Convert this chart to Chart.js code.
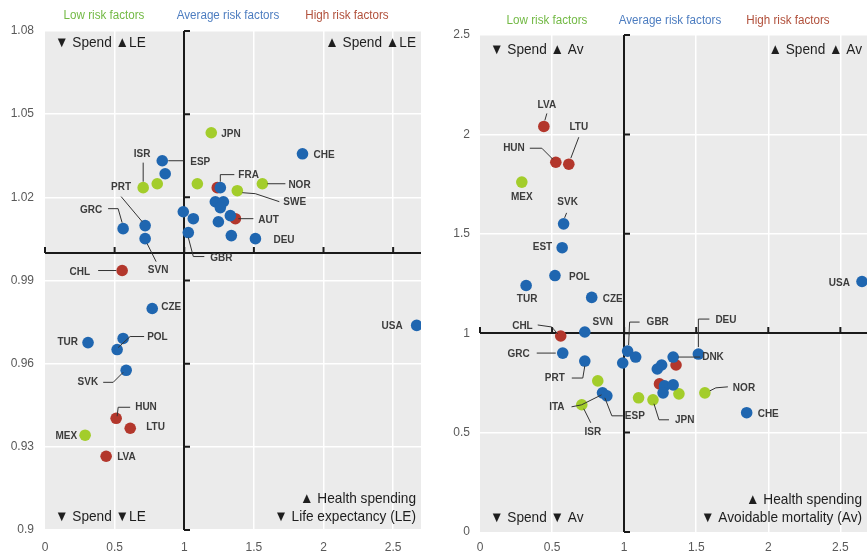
<!DOCTYPE html>
<html>
<head>
<meta charset="utf-8">
<script src="https://cdn.jsdelivr.net/npm/chart.js@4/dist/chart.umd.min.js"></script>
<style>
  html, body { margin: 0; padding: 0; background: #fff; overflow: hidden; width: 867px; height: 556px; }
  #leChart { position: absolute; left: 0; top: 0; }
  #avChart { position: absolute; left: 430px; top: 0; }
</style>
</head>
<body>
<canvas id="leChart" width="430" height="556"></canvas>
<canvas id="avChart" width="445" height="556"></canvas>
<script>
// ---- data: left panel (spending ratio vs life expectancy ratio) ----
// risk: L = low, A = average, H = high risk factors
const leCountries = ['CHL', '', 'AUT', 'HUN', 'LTU', 'LVA',
    'JPN', 'ISR', '', '', 'SWE', 'NOR', 'MEX',
    'CHE', 'ESP', '', 'FRA', '', '', '', '', '', '', '', '', 'DEU', 'GBR', 'GRC', 'PRT', 'SVN',
    'CZE', 'USA', '', 'POL', 'TUR', 'SVK'];
const leSpend = [0.554, 1.237, 1.367, 0.511, 0.612, 0.439,
    1.194, 0.705, 0.806, 1.094, 1.381, 1.561, 0.288,
    1.849, 0.842, 0.863, 1.259, 1.223, 1.281, 1.259, 0.993, 1.065, 1.245, 1.331, 1.338, 1.511, 1.029, 0.561, 0.719, 0.719,
    0.770, 2.669, 0.561, 0.518, 0.309, 0.583];
const leLife = [0.9936, 1.0235, 1.0123, 0.9403, 0.9367, 0.9266,
    1.0433, 1.0235, 1.0249, 1.0249, 1.0224, 1.0249, 0.9342,
    1.0357, 1.0332, 1.0285, 1.0235, 1.0184, 1.0184, 1.0163, 1.0148, 1.0123, 1.0112, 1.0134, 1.0062, 1.0051, 1.0073, 1.0087, 1.0098, 1.0051,
    0.9799, 0.9738, 0.9691, 0.9651, 0.9676, 0.9576];
const leRisk = ['H', 'H', 'H', 'H', 'H', 'H',
    'L', 'L', 'L', 'L', 'L', 'L', 'L',
    'A', 'A', 'A', 'A', 'A', 'A', 'A', 'A', 'A', 'A', 'A', 'A', 'A', 'A', 'A', 'A', 'A',
    'A', 'A', 'A', 'A', 'A', 'A'];
const leYTicks = [0.9, 0.93, 0.96, 0.99, 1.02, 1.05, 1.08];
const leYTickLabels = ['0.9', '0.93', '0.96', '0.99', '1.02', '1.05', '1.08'];

// ---- data: right panel (spending ratio vs avoidable mortality ratio) ----
const avCountries = ['LVA', 'HUN', 'LTU', 'CHL', '', '',
    'MEX', '', 'ISR', '', 'JPN', '', 'NOR',
    'SVK', 'EST', 'POL', 'TUR', 'CZE', 'USA', 'SVN', 'GRC', 'PRT', 'ITA', 'ESP', 'GBR', '', '',
    '', '', 'DNK', 'DEU', '', '', '', 'CHE'];
const avSpend = [0.443, 0.526, 0.616, 0.56, 1.36, 1.245,
    0.29, 0.817, 0.706, 1.10, 1.20, 1.38, 1.56,
    0.58, 0.57, 0.52, 0.32, 0.775, 2.65, 0.727, 0.574, 0.727, 0.85, 0.88, 1.024, 1.08, 0.99,
    1.23, 1.26, 1.34, 1.515, 1.28, 1.27, 1.34, 1.85];
const avMort = [2.04, 1.86, 1.85, 0.986, 0.84, 0.745,
    1.76, 0.76, 0.64, 0.675, 0.665, 0.695, 0.70,
    1.55, 1.43, 1.29, 1.24, 1.18, 1.26, 1.006, 0.90, 0.86, 0.70, 0.685, 0.91, 0.88, 0.85,
    0.82, 0.84, 0.88, 0.895, 0.735, 0.70, 0.74, 0.60];
const avRisk = ['H', 'H', 'H', 'H', 'H', 'H',
    'L', 'L', 'L', 'L', 'L', 'L', 'L',
    'A', 'A', 'A', 'A', 'A', 'A', 'A', 'A', 'A', 'A', 'A', 'A', 'A', 'A',
    'A', 'A', 'A', 'A', 'A', 'A', 'A', 'A'];
const avYTicks = [0, 0.5, 1, 1.5, 2, 2.5];
const avYTickLabels = ['0', '0.5', '1', '1.5', '2', '2.5'];

const xTicks = [0, 0.5, 1, 1.5, 2, 2.5];
const xTickLabels = ['0', '0.5', '1', '1.5', '2', '2.5'];

// ---- styles ----
const RISK_COLOR = { L: '#a3cd2b', A: '#1f66b0', H: '#b3372c' };
const SANS = "'Liberation Sans', Arial, sans-serif";
const TICK_FONT = { family: SANS, size: 12 };

// label placement, pixel offsets from the point (text anchor + leader polyline)
const leLabelPos = {
    JPN: { dx: 10, dy: 1 }, CHE: { dx: 11, dy: 1 },
    ISR: { dx: -1, dy: -34, align: 'center', line: [[0, -25], [0, -6]] },
    ESP: { dx: 28, dy: 1, line: [[6, 0], [21, 0]] },
    FRA: { dx: 18, dy: -13, line: [[0, -6], [0, -13], [14, -13]] },
    SWE: { dx: 46, dy: 11, line: [[5, 2], [18, 3], [42, 11]] },
    NOR: { dx: 26, dy: 1, line: [[5, 0], [23, 0]] },
    AUT: { dx: 23, dy: 1, line: [[3, 0], [18, 0]] },
    DEU: { dx: 18, dy: 1 },
    GBR: { dx: 22, dy: 25, line: [[0, 5], [5, 24], [16, 24]] },
    GRC: { dx: -21, dy: -19, align: 'right', line: [[-15, -20], [-5, -20], [-1, -6]] },
    PRT: { dx: -24, dy: -39, align: 'center', line: [[-24, -29], [-3, -4]] },
    SVN: { dx: 13, dy: 31, align: 'center', line: [[2, 5], [11, 23]] },
    CHL: { dx: -32, dy: 1, align: 'right', line: [[-24, 0], [-6, 0]] },
    CZE: { dx: 9, dy: -2 },
    USA: { dx: -14, dy: 0, align: 'right' },
    POL: { dx: 30, dy: -13, line: [[1, -2], [13, -13], [27, -13]] },
    TUR: { dx: -10, dy: -1, align: 'right' },
    SVK: { dx: -28, dy: 12, align: 'right', line: [[-23, 12], [-13, 12], [-3, 2]] },
    HUN: { dx: 19, dy: -11, line: [[1, -2], [2, -11], [14, -11]] },
    LTU: { dx: 16, dy: -1 }, MEX: { dx: -8, dy: 1, align: 'right' }, LVA: { dx: 11, dy: 1 }
};
const avLabelPos = {
    LVA: { dx: 3, dy: -22, align: 'center', line: [[3, -13], [1, -6]] },
    HUN: { dx: -31, dy: -14, align: 'right', line: [[-26, -14], [-14, -14], [-3, -3]] },
    LTU: { dx: 10, dy: -37, align: 'center', line: [[10, -27], [2, -6]] },
    MEX: { dx: 0, dy: 15, align: 'center' },
    SVK: { dx: 4, dy: -22, align: 'center', line: [[3, -11], [1, -6]] },
    EST: { dx: -10, dy: -1, align: 'right' },
    POL: { dx: 14, dy: 1 },
    TUR: { dx: 1, dy: 13, align: 'center' },
    CZE: { dx: 11, dy: 1 },
    USA: { dx: -12, dy: 1, align: 'right' },
    SVN: { dx: 18, dy: -10, align: 'center' },
    CHL: { dx: -28, dy: -10, align: 'right', line: [[-23, -11], [-9, -9], [-3, -2]] },
    GRC: { dx: -33, dy: 1, align: 'right', line: [[-26, 0], [-7, 0]] },
    PRT: { dx: -20, dy: 17, align: 'right', line: [[-13, 17], [-2, 17], [0, 5]] },
    ISR: { dx: 11, dy: 27, align: 'center', line: [[9, 18], [2, 4]] },
    ITA: { dx: -38, dy: 14, align: 'right', line: [[-31, 14], [-21, 12], [-1, 2]] },
    ESP: { dx: 18, dy: 20, line: [[16, 20], [5, 20], [-2, 2]] },
    GBR: { dx: 19, dy: -29, line: [[12, -29], [2, -29], [1, -6]] },
    JPN: { dx: 22, dy: 20, line: [[16, 20], [6, 20], [1, 4]] },
    DNK: { dx: 29, dy: 0, line: [[5, 0], [27, 0]] },
    DEU: { dx: 17, dy: -34, line: [[11, -35], [0, -35], [0, -7]] },
    NOR: { dx: 28, dy: -5, line: [[5, -2], [11, -5], [23, -6]] },
    CHE: { dx: 11, dy: 1 }
};

// text squeezed horizontally to mimic the narrow face of the original
function drawText(ctx, text, x, y, font, color, align, squeeze) {
    ctx.save();
    ctx.font = font;
    ctx.fillStyle = color;
    ctx.textAlign = align || 'left';
    ctx.textBaseline = 'middle';
    ctx.translate(x, y);
    ctx.scale(squeeze || 1, 1);
    ctx.fillText(text, 0, 0);
    ctx.restore();
}

// background, quadrant lines, point labels, header and corner notes
function panelPlugin(cfg) {
    return {
        id: 'panel',
        beforeDraw(chart) {
            const a = chart.chartArea, ctx = chart.ctx;
            ctx.save();
            ctx.fillStyle = '#ebebeb';
            ctx.fillRect(a.left, a.top, a.right - a.left, a.bottom - a.top);
            ctx.restore();
        },
        beforeDatasetsDraw(chart) {
            const a = chart.chartArea, ctx = chart.ctx;
            const xs = chart.scales.x, ys = chart.scales.y;
            const x1 = Math.round(xs.getPixelForValue(1)), y1 = Math.round(ys.getPixelForValue(1));
            ctx.save();
            ctx.strokeStyle = '#1a1a1a';
            ctx.lineWidth = 2;
            ctx.beginPath();
            ctx.moveTo(x1, a.top); ctx.lineTo(x1, a.bottom);
            ctx.moveTo(a.left, y1); ctx.lineTo(a.right, y1);
            ys.ticks.forEach(t => {
                const y = ys.getPixelForValue(t.value);
                ctx.moveTo(x1, y); ctx.lineTo(x1 + 6, y);
            });
            xs.ticks.forEach(t => {
                const x = xs.getPixelForValue(t.value);
                ctx.moveTo(x, y1); ctx.lineTo(x, y1 - 6);
            });
            ctx.stroke();
            ctx.restore();
        },
        afterDatasetsDraw(chart) {
            const ctx = chart.ctx, a = chart.chartArea;
            const meta = chart.getDatasetMeta(0);
            ctx.save();
            // country labels with leader lines
            cfg.names.forEach((name, i) => {
                const pos = cfg.labelPos[name];
                if (!name || !pos) return;
                const p = meta.data[i];
                if (pos.line) {
                    ctx.strokeStyle = '#333';
                    ctx.lineWidth = 1;
                    ctx.beginPath();
                    pos.line.forEach((pt, k) => {
                        if (k === 0) ctx.moveTo(p.x + pt[0], p.y + pt[1]);
                        else ctx.lineTo(p.x + pt[0], p.y + pt[1]);
                    });
                    ctx.stroke();
                }
                drawText(ctx, name, p.x + pos.dx, p.y + pos.dy, 'bold 11.5px ' + SANS, '#3c3c3c', pos.align, 0.87);
            });
            // risk group header
            const hf = '12.5px ' + SANS;
            drawText(ctx, 'Low risk factors', cfg.header[0], cfg.headerY, hf, '#72b944', 'center', 0.93);
            drawText(ctx, 'Average risk factors', cfg.header[1], cfg.headerY, hf, '#4d7dc0', 'center', 0.93);
            drawText(ctx, 'High risk factors', cfg.header[2], cfg.headerY, hf, '#b1503b', 'center', 0.93);
            // quadrant notes
            const cf = '15px ' + SANS, col = '#1e1e1e';
            drawText(ctx, cfg.notes[0], a.left + 10, cfg.noteTop, cf, col, 'left', 0.91);
            drawText(ctx, cfg.notes[1], cfg.noteRight, cfg.noteTop, cf, col, 'right', 0.91);
            drawText(ctx, cfg.notes[2], a.left + 10, cfg.noteBottom, cf, col, 'left', 0.91);
            drawText(ctx, '\u25B2 Health spending', cfg.noteRight, cfg.noteBottom - 18, cf, col, 'right', 0.91);
            drawText(ctx, cfg.notes[3], cfg.noteRight, cfg.noteBottom, cf, col, 'right', 0.91);
            ctx.restore();
        }
    };
}

function makeChart(id, cfg) {
    const points = cfg.xs.map((x, i) => ({ x: x, y: cfg.ys[i] }));
    const gridColor = c => (c.tick && (c.tick.value === 0 || c.tick.value === 1)) ? 'rgba(0,0,0,0)' : '#ffffff';
    return new Chart(document.getElementById(id), {
        type: 'scatter',
        data: {
            datasets: [{
                data: points,
                backgroundColor: cfg.risk.map(r => RISK_COLOR[r]),
                borderWidth: 0,
                pointRadius: 5.8,
                pointHoverRadius: 5.8
            }]
        },
        options: {
            responsive: false,
            animation: false,
            events: [],
            layout: { padding: { top: cfg.padTop, right: cfg.padRight, left: 0, bottom: 0 } },
            plugins: { legend: { display: false }, tooltip: { enabled: false } },
            scales: {
                x: {
                    type: 'linear', min: 0, max: 2.7,
                    afterBuildTicks: s => { s.ticks = xTicks.map(v => ({ value: v })); },
                    afterFit: s => { s.height = cfg.xHeight; },
                    ticks: { callback: (v, i) => xTickLabels[i], color: '#595959', font: TICK_FONT, padding: cfg.xPad, maxRotation: 0, autoSkip: false },
                    grid: { color: gridColor, lineWidth: 1.5, drawTicks: false },
                    border: { display: false }
                },
                y: {
                    type: 'linear', min: cfg.yTicks[0], max: cfg.yTicks[cfg.yTicks.length - 1],
                    afterBuildTicks: s => { s.ticks = cfg.yTicks.map(v => ({ value: v })); },
                    afterFit: s => { s.width = cfg.yWidth; },
                    ticks: { callback: (v, i) => cfg.yTickLabels[i], color: '#595959', font: TICK_FONT, padding: cfg.yPad, autoSkip: false },
                    grid: { color: gridColor, lineWidth: 1.5, drawTicks: false },
                    border: { display: false }
                }
            }
        },
        plugins: [panelPlugin(cfg)]
    });
}

makeChart('leChart', {
    xs: leSpend, ys: leLife, risk: leRisk, names: leCountries, labelPos: leLabelPos,
    yTicks: leYTicks, yTickLabels: leYTickLabels,
    padTop: 31, padRight: 9, xHeight: 26, xPad: 10, yWidth: 45, yPad: 11,
    header: [104, 228, 347], headerY: 16,
    notes: ['\u25BC Spend \u25B2LE', '\u25B2 Spend \u25B2LE', '\u25BC Spend \u25BCLE', '\u25BC Life expectancy (LE)'],
    noteTop: 43, noteBottom: 517, noteRight: 416
});

makeChart('avChart', {
    xs: avSpend, ys: avMort, risk: avRisk, names: avCountries, labelPos: avLabelPos,
    yTicks: avYTicks, yTickLabels: avYTickLabels,
    padTop: 35, padRight: 5, xHeight: 24, xPad: 8, yWidth: 50, yPad: 10,
    header: [117, 240, 358], headerY: 21,
    notes: ['\u25BC Spend \u25B2 Av', '\u25B2 Spend \u25B2 Av', '\u25BC Spend \u25BC Av', '\u25BC Avoidable mortality (Av)'],
    noteTop: 50, noteBottom: 518, noteRight: 432
});
</script>
</body>
</html>
